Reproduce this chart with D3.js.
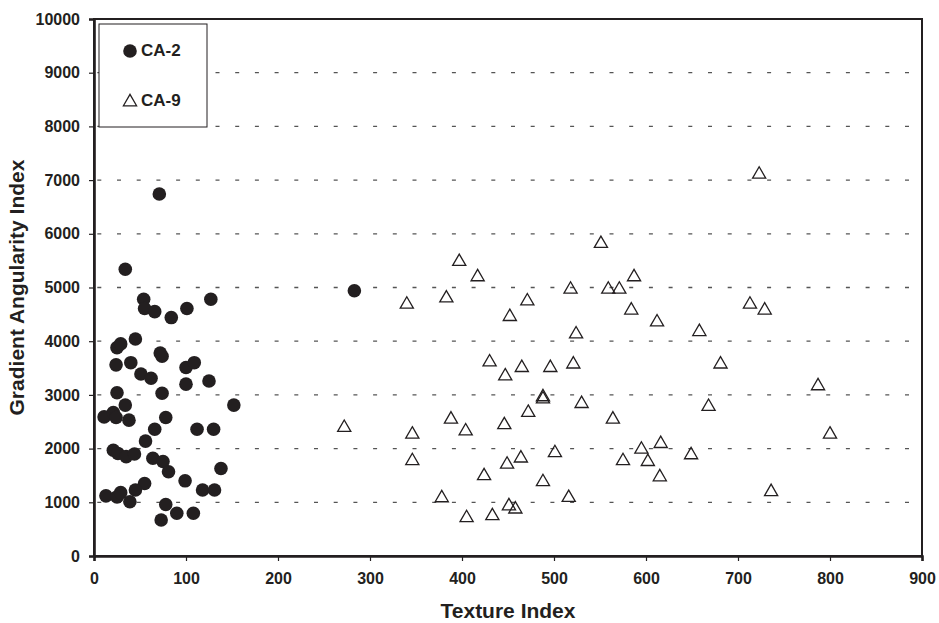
<!DOCTYPE html>
<html>
<head>
<meta charset="utf-8">
<script src="https://d3js.org/d3.v7.min.js"></script>
<style>
  body { margin: 0; background: #fff; }
  text { font-family: Arial, "Liberation Sans", Helvetica, sans-serif; font-weight: bold; fill: #231f20; }
</style>
</head>
<body>
<div id="chart"></div>
<script>
// CA-2 (filled circles): [texture index, gradient angularity index]
var ca2 = [
    [71, 6740], [34, 5340], [54, 4780], [55, 4610], [66, 4550], [84, 4440], [101, 4610], [127, 4780],
    [45, 4040], [25, 3880], [29, 3950], [72, 3780], [74, 3720], [24, 3560], [40, 3600], [100, 3510],
    [109, 3600], [51, 3390], [62, 3310], [100, 3200], [125, 3260], [25, 3040], [74, 3030], [34, 2810],
    [152, 2810], [11, 2590], [21, 2670], [24, 2580], [38, 2530], [78, 2580], [66, 2360], [112, 2360],
    [130, 2360], [56, 2140], [21, 1970], [26, 1910], [35, 1850], [44, 1900], [64, 1820], [75, 1760],
    [81, 1570], [138, 1630], [99, 1400], [55, 1350], [45, 1230], [13, 1120], [25, 1100], [29, 1180],
    [39, 1010], [118, 1230], [131, 1230], [78, 960], [90, 795], [108, 795], [73, 670], [283, 4940]
];

// CA-9 (open triangles)
var ca9 = [
    [272, 2410], [340, 4705], [346, 2285], [346, 1790], [378, 1100], [383, 4820], [388, 2565], [397, 5500],
    [404, 2345], [405, 730], [417, 5215], [424, 1510], [430, 3630], [433, 765], [446, 2460], [447, 3370],
    [449, 1725], [451, 950], [452, 4475], [458, 890], [464, 1840], [465, 3525], [471, 4765], [472, 2690],
    [488, 1400], [488, 2940], [488, 2980], [496, 3525], [501, 1940], [516, 1105], [518, 4985], [521, 3590],
    [524, 4150], [530, 2855], [551, 5835], [559, 4985], [564, 2565], [571, 4985], [575, 1790], [584, 4595],
    [587, 5215], [595, 2005], [602, 1775], [612, 4375], [615, 1490], [616, 2110], [649, 1900], [658, 4195],
    [668, 2800], [681, 3590], [713, 4705], [723, 7125], [729, 4595], [736, 1215], [787, 3185], [800, 2285]
];

var xTicks = [0, 100, 200, 300, 400, 500, 600, 700, 800, 900];
var yTicks = [0, 1000, 2000, 3000, 4000, 5000, 6000, 7000, 8000, 9000, 10000];
var seriesNames = ["CA-2", "CA-9"];
var xTitle = "Texture Index";
var yTitle = "Gradient Angularity Index";

var width = 939;
var height = 623;
var ink = "#231f20";

var svg = d3.select("#chart").append("svg").attr("width", width).attr("height", height);

var xScale = d3.scaleLinear().domain([0, 900]).range([94, 922]);
var yScale = d3.scaleLinear().domain([0, 10000]).range([556, 19]);

// dashed gridlines
svg.append("g")
    .selectAll("line")
    .data(yTicks.filter(function(d){ return d > 0 && d < 10000; }))
    .enter().append("line")
    .attr("x1", xScale(0) + 2)
    .attr("x2", xScale(900) - 2)
    .attr("y1", function(d){ return yScale(d); })
    .attr("y2", function(d){ return yScale(d); })
    .attr("stroke", "#555")
    .attr("stroke-width", 1.3)
    .attr("stroke-dasharray", "4,15.7")
    .attr("stroke-dashoffset", -21);

// frame (top and right)
svg.append("rect")
    .attr("x", xScale(0))
    .attr("y", yScale(10000))
    .attr("width", xScale(900) - xScale(0))
    .attr("height", yScale(0) - yScale(10000))
    .attr("fill", "none")
    .attr("stroke", ink)
    .attr("stroke-width", 2);

// axes
var xAxis = svg.append("g")
    .attr("transform", "translate(0," + yScale(0) + ")")
    .call(d3.axisBottom(xScale).tickValues(xTicks).tickSize(5).tickPadding(12).tickFormat(d3.format("d")));
var yAxis = svg.append("g")
    .attr("transform", "translate(" + xScale(0) + ",0)")
    .call(d3.axisLeft(yScale).tickValues(yTicks).tickSize(5).tickPadding(9).tickFormat(d3.format("d")));

[xAxis, yAxis].forEach(function(a){
    a.select(".domain").attr("stroke", ink).attr("stroke-width", 2.6);
    a.selectAll(".tick line").attr("stroke", ink).attr("stroke-width", 1.2);
    a.selectAll(".tick text").style("font-size", "16px").attr("fill", ink);
});

// points
svg.append("g")
    .selectAll("circle")
    .data(ca2)
    .enter().append("circle")
    .attr("cx", function(d){ return xScale(d[0]); })
    .attr("cy", function(d){ return yScale(d[1]); })
    .attr("r", 6.8)
    .attr("fill", ink);

var tri = d3.symbol().type(d3.symbolTriangle).size(75);
svg.append("g")
    .selectAll("path")
    .data(ca9)
    .enter().append("path")
    .attr("d", tri)
    .attr("transform", function(d){ return "translate(" + xScale(d[0]) + "," + (yScale(d[1]) + 1) + ")"; })
    .attr("fill", "none")
    .attr("stroke", ink)
    .attr("stroke-width", 1.3);

// legend
var legend = svg.append("g");
legend.append("rect")
    .attr("x", 99).attr("y", 24).attr("width", 108).attr("height", 103)
    .attr("fill", "#fff").attr("stroke", ink).attr("stroke-width", 1);
legend.append("circle").attr("cx", 130).attr("cy", 51).attr("r", 6.8).attr("fill", ink);
legend.append("path").attr("d", tri).attr("transform", "translate(130,102)")
    .attr("fill", "none").attr("stroke", ink).attr("stroke-width", 1.3);
legend.selectAll("text.leg")
    .data(seriesNames)
    .enter().append("text")
    .attr("class", "leg")
    .attr("x", 141)
    .attr("y", function(d, i){ return i == 0 ? 56 : 106; })
    .style("font-size", "17px")
    .text(function(d){ return d; });

// axis titles
svg.append("text")
    .attr("x", (xScale(0) + xScale(900)) / 2)
    .attr("y", 618)
    .attr("text-anchor", "middle")
    .style("font-size", "21px")
    .text(xTitle);

svg.append("text")
    .attr("transform", "translate(24," + (yScale(5000)) + ") rotate(-90)")
    .attr("text-anchor", "middle")
    .style("font-size", "21px")
    .text(yTitle);
</script>
</body>
</html>
